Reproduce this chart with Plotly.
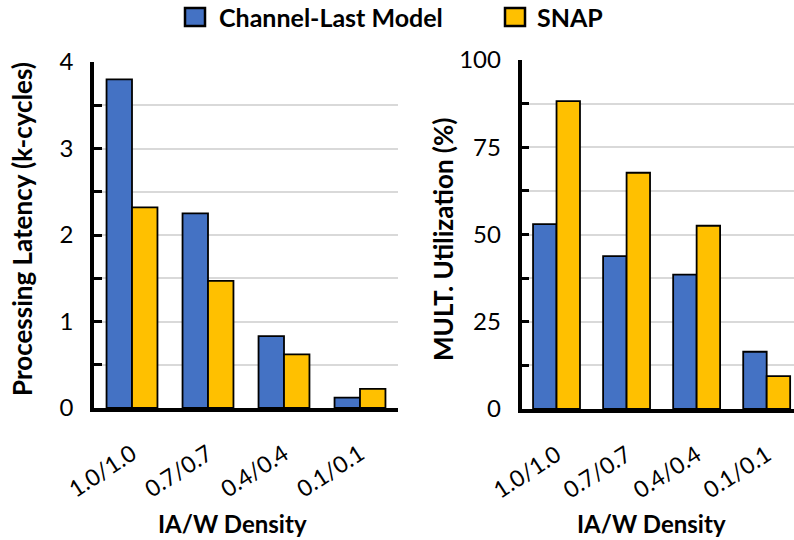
import plotly.graph_objects as go

# IA/W density settings
categories = ["1.0/1.0", "0.7/0.7", "0.4/0.4", "0.1/0.1"]

# Processing latency (k-cycles)
latency_channel_last = [3.80, 2.25, 0.83, 0.12]
latency_snap = [2.32, 1.47, 0.62, 0.22]

# Multiplier utilization (%)
util_channel_last = [53.0, 43.8, 38.5, 16.4]
util_snap = [88.2, 67.7, 52.5, 9.4]

series_names = ["Channel-Last Model", "SNAP"]
colors = ["#4472C4", "#FFC000"]

# tick labels (gridlines at half steps, labels only on the main steps)
lat_tickvals = [0, 0.5, 1, 1.5, 2, 2.5, 3, 3.5, 4]
lat_ticktext = ["0", "", "1", "", "2", "", "3", "", "4"]
util_tickvals = [0, 12.5, 25, 37.5, 50, 62.5, 75, 87.5, 100]
util_ticktext = ["0", "", "25", "", "50", "", "75", "", "100"]

FONT = "Lato"
W, H = 794, 540

fig = go.Figure()

for vals, name, col in zip([latency_channel_last, latency_snap], series_names, colors):
    fig.add_trace(go.Bar(x=categories, y=vals, name=name, marker_color=col,
                         marker_line=dict(color="black", width=1.8),
                         xaxis="x", yaxis="y", showlegend=False))
for vals, name, col in zip([util_channel_last, util_snap], series_names, colors):
    fig.add_trace(go.Bar(x=categories, y=vals, name=name, marker_color=col,
                         marker_line=dict(color="black", width=1.8),
                         xaxis="x2", yaxis="y2", showlegend=False))

xtickfont = dict(family=FONT, size=23, color="black")
ytickfont = dict(family=FONT, size=24, color="black")
xcommon = dict(showline=True, linecolor="black", linewidth=3.5, ticks="",
               tickangle=-33, tickfont=xtickfont, showgrid=False, zeroline=False,
               ticklabelstandoff=20, automargin=False)
ycommon = dict(showline=True, linecolor="black", linewidth=3.5, ticks="inside",
               ticklen=8, tickwidth=3, tickcolor="black", tickfont=ytickfont,
               showgrid=True, gridcolor="#D9D9D9", gridwidth=2, zeroline=False,
               ticklabelstandoff=12, automargin=False)

fig.update_layout(
    width=W, height=H,
    margin=dict(l=0, r=0, t=0, b=0, autoexpand=False),
    paper_bgcolor="white", plot_bgcolor="white",
    barmode="group", bargap=0.33, bargroupgap=0.0,
    xaxis=dict(domain=[94 / W, 398 / W], anchor="y", range=[-0.5, 3.5], **xcommon),
    yaxis=dict(domain=[(H - 408) / H, (H - 62) / H], anchor="x", range=[0, 4],
               tickvals=lat_tickvals, ticktext=lat_ticktext, **ycommon),
    xaxis2=dict(domain=[521.5 / W, 1.0], anchor="y2", range=[-0.5, 3.39], **xcommon),
    yaxis2=dict(domain=[(H - 409) / H, (H - 60) / H], anchor="x2", range=[0, 100],
                tickvals=util_tickvals, ticktext=util_ticktext, **ycommon),
    showlegend=False,
)

ytitlefont = dict(family=FONT, size=26, color="black", weight="bold")
xtitlefont = dict(family=FONT, size=24, color="black", weight="bold")
legendfont = dict(family=FONT, size=25, color="black", weight="bold")
annotations = [
    dict(text="Processing Latency (k-cycles)", x=22 / W, y=(H - 229) / H, textangle=-90,
         font=ytitlefont),
    dict(text="MULT. Utilization (%)", x=443 / W, y=(H - 240) / H, textangle=-90,
         font=ytitlefont),
    dict(text="IA/W Density", x=232 / W, y=(H - 523) / H, font=xtitlefont),
    dict(text="IA/W Density", x=651 / W, y=(H - 523) / H, font=xtitlefont),
]
for a in annotations:
    fig.add_annotation(xref="paper", yref="paper", showarrow=False,
                       xanchor="center", yanchor="middle", **a)

# legend drawn as swatches with labels
legend_items = [(185, 217), (505, 535)]
for (sx, tx), name, col in zip(legend_items, series_names, colors):
    fig.add_shape(type="rect", xref="paper", yref="paper",
                  x0=sx / W, x1=(sx + 20) / W, y0=(H - 26) / H, y1=(H - 8) / H,
                  fillcolor=col, line=dict(color="black", width=2.5))
    fig.add_annotation(xref="paper", yref="paper", showarrow=False, text=name,
                       x=tx / W, y=(H - 17) / H, xanchor="left", yanchor="middle",
                       font=legendfont)

fig.write_html("out.html")
